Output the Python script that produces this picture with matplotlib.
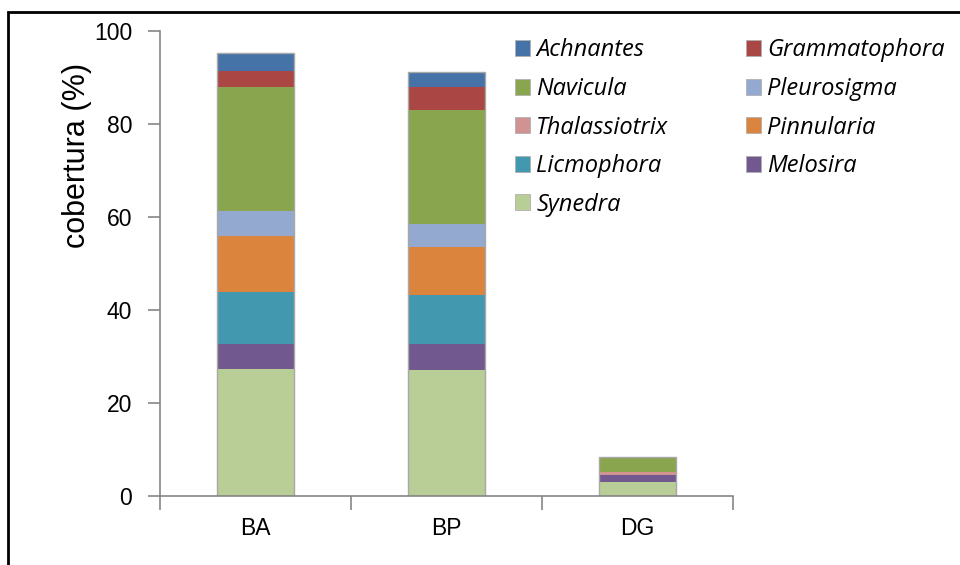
import matplotlib
matplotlib.use('Agg')
import matplotlib.pyplot as plt
import matplotlib.patches as mpatches
import numpy as np

plt.rcParams['font.family'] = ['Liberation Sans', 'DejaVu Sans']

sites = ['BA', 'BP', 'DG']

# stack order, bottom to top
synedra = [27.3, 27.2, 3.1]
melosira = [5.3, 5.4, 1.4]
licmophora = [11.3, 10.7, 0.0]
pinnularia = [12.1, 10.2, 0.0]
thalassiotrix = [0.0, 0.0, 0.7]
pleurosigma = [5.2, 4.9, 0.0]
navicula = [26.7, 24.7, 3.1]
grammatophora = [3.6, 4.9, 0.0]
achnantes = [3.7, 3.2, 0.0]

series = [
    ('Synedra', synedra, '#B9CD96'),
    ('Melosira', melosira, '#71588F'),
    ('Licmophora', licmophora, '#4198AF'),
    ('Pinnularia', pinnularia, '#DB843D'),
    ('Thalassiotrix', thalassiotrix, '#D19392'),
    ('Pleurosigma', pleurosigma, '#93A9CF'),
    ('Navicula', navicula, '#89A54E'),
    ('Grammatophora', grammatophora, '#AA4643'),
    ('Achnantes', achnantes, '#4572A7'),
]

fig = plt.figure(figsize=(9.6, 5.65), dpi=100)
ax = fig.add_axes([160/960, 1-496/565, 573/960, 465/565])

x = np.arange(len(sites))
width = 0.4
bottom = np.zeros(len(sites))
handles = {}
for name, vals, col in series:
    vals = np.array(vals)
    ax.bar(x, vals, width, bottom=bottom, color=col, linewidth=0)
    handles[name] = mpatches.Patch(facecolor=col, edgecolor='#b0b0b0', linewidth=0.6)
    bottom = bottom + vals
# outline around each stack
ax.bar(x, bottom, width, fill=False, edgecolor='#a8a8a8', linewidth=1.0)

ax.set_xlim(-0.5, 2.5)
ax.set_ylim(0, 100)
ax.set_yticks([0, 20, 40, 60, 80, 100])
ax.set_xticks(x)
ax.set_xticklabels(sites)
ax.set_xticks([-0.5, 0.5, 1.5, 2.5], minor=True)
ax.tick_params(axis='x', which='major', length=0, pad=15, labelsize=16.5)
ax.tick_params(axis='x', which='minor', length=10, width=1.2, color='#868686', direction='out')
ax.tick_params(axis='y', length=9, width=1.2, color='#868686', pad=11, labelsize=16.5)

for s in ['top', 'right']:
    ax.spines[s].set_visible(False)
for s in ['left', 'bottom']:
    ax.spines[s].set_color('#868686')
    ax.spines[s].set_linewidth(1.2)

fig.text(77/960, 1-155/565, 'cobertura (%)', rotation=90, ha='center', va='center', fontsize=22)

# legend, two columns, Excel-like order
col1 = ['Achnantes', 'Navicula', 'Thalassiotrix', 'Licmophora', 'Synedra']
col2 = ['Grammatophora', 'Pleurosigma', 'Pinnularia', 'Melosira']
leg_kw = dict(frameon=False, prop={'family': 'Open Sans', 'style': 'italic', 'size': 17},
              handlelength=0.64, handleheight=0.64, handletextpad=0.26,
              labelspacing=0.615, borderaxespad=0, borderpad=0, loc='upper left')
leg1 = fig.legend([handles[n] for n in col1], col1,
                  bbox_to_anchor=(515/960, 1-38.5/565), **leg_kw)
leg2 = fig.legend([handles[n] for n in col2], col2,
                  bbox_to_anchor=(746/960, 1-38.5/565), **leg_kw)

# outer frame
fig.patches.append(mpatches.Rectangle((8/960, -0.1), 1.2, 1-12/565+0.1,
                                      transform=fig.transFigure, fill=False,
                                      edgecolor='black', linewidth=2))

fig.savefig('out.png', dpi=100)
